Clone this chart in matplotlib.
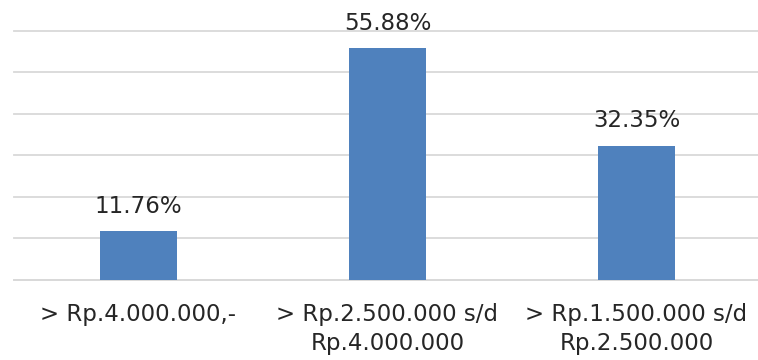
import matplotlib
matplotlib.use("Agg")
import matplotlib.pyplot as plt

categories = ["> Rp.4.000.000,-", "> Rp.2.500.000 s/d\nRp.4.000.000", "> Rp.1.500.000 s/d\nRp.2.500.000"]
values = [11.76, 55.88, 32.35]
labels = ["11.76%", "55.88%", "32.35%"]

plt.rcParams["font.family"] = ["DejaVu Sans"]

fig = plt.figure(figsize=(7.58, 3.6), dpi=100)
ax = fig.add_axes([14 / 758, 80.5 / 360, 747 / 758, 248.5 / 360])

x = range(len(categories))
bars = ax.bar(x, values, width=0.313, color="#4f81bd", zorder=3)

for bar, text in zip(bars, labels):
    ax.annotate(text, (bar.get_x() + bar.get_width() / 2, bar.get_height()),
                xytext=(0, 13), textcoords="offset points",
                ha="center", va="baseline", fontsize=16.5, color="#262626")

ax.set_xlim(-0.5, 2.5)
ax.set_ylim(0, 60)
ax.set_yticks(range(0, 61, 10))
ax.yaxis.grid(True, color="#d9d9d9", linewidth=1.3, zorder=0)
for line in ax.get_ygridlines():
    line.set_clip_on(False)
ax.set_yticklabels([])
ax.tick_params(axis="y", length=0)
ax.set_xticks(list(x))
ax.set_xticklabels(categories, fontsize=16.5, color="#262626", linespacing=1.35)
ax.tick_params(axis="x", length=0, pad=17)
for side in ["top", "right", "left"]:
    ax.spines[side].set_visible(False)
ax.spines["bottom"].set_color("#d9d9d9")
ax.spines["bottom"].set_linewidth(1.3)

fig.savefig("out.png", dpi=100)
